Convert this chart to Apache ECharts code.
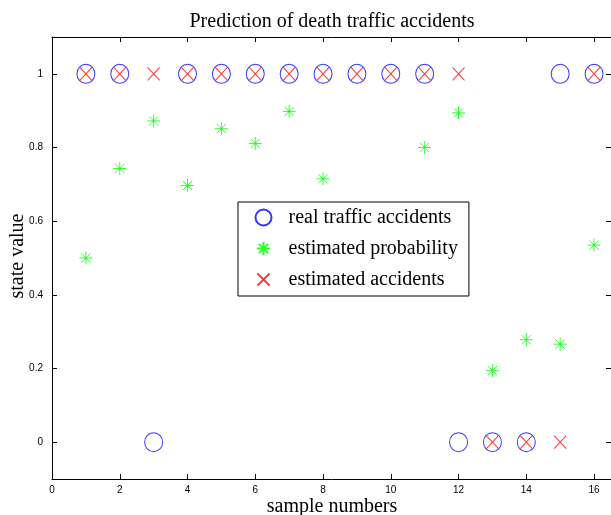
<!DOCTYPE html>
<html>
<head>
<meta charset="utf-8">
<script src="https://cdn.jsdelivr.net/npm/echarts@6/dist/echarts.min.js"></script>
<style>
html,body{margin:0;padding:0;background:#fff;}
#c{width:611px;height:515px;}
</style>
</head>
<body>
<div id="c"></div>
<script>
// ---- data ----
const samples = [1,2,3,4,5,6,7,8,9,10,11,12,13,14,15,16];
const realAccidents = [1,1,0,1,1,1,1,1,1,1,1,0,0,0,1,1];
const estimatedProbability = [0.50,0.743,0.872,0.697,0.851,0.811,0.898,0.715,null,null,0.800,0.894,0.194,0.278,0.266,0.535];
const estimatedAccidents = [1,1,1,1,1,1,1,1,1,1,1,1,0,0,0,1];
const xTicks = [0,2,4,6,8,10,12,14,16];
const yTicks = [0,0.2,0.4,0.6,0.8,1];
const titleText = 'Prediction of death traffic accidents';
const xLabel = 'sample numbers';
const yLabel = 'state value';
const names = ['real traffic accidents','estimated probability','estimated accidents'];

const pairs = arr => samples.map((s,i)=>[s,arr[i]]).filter(p=>p[1]!==null);

const starPath = 'path://M5,0L5,10M0,5L10,5M1.5,1.5L8.5,8.5M8.5,1.5L1.5,8.5';
const xPath = 'path://M0,0L10,10M10,0L0,10';
// padded versions for legend icons (M points enlarge the bounding box)
const starPathLegend = 'path://M-1,-1M11,11M5,0L5,10M0,5L10,5M1.5,1.5L8.5,8.5M8.5,1.5L1.5,8.5';
const xPathLegend = 'path://M-1.5,-1.5M11.5,11.5M0,0L10,10M10,0L0,10';

const serif = 'Liberation Serif, Times New Roman, serif';
const sans = 'Liberation Sans, Arial, sans-serif';

const chart = echarts.init(document.getElementById('c'), null, {renderer:'canvas'});

const axisCommon = {
  type:'value',
  axisLine:{show:true,onZero:false,lineStyle:{color:'#000',width:1}},
  splitLine:{show:false},
  axisTick:{show:true,inside:true,length:5,lineStyle:{color:'#000',width:1}},
};

chart.setOption({
  animation:false,
  backgroundColor:'#fff',
  grid:{left:52,right:-1,top:37,bottom:36,containLabel:false},
  xAxis:[
    Object.assign({},axisCommon,{position:'bottom',min:0,max:16.5,
      axisTick:Object.assign({},axisCommon.axisTick,{customValues:xTicks}),
      axisLabel:{customValues:xTicks,color:'#000',fontSize:10,fontFamily:sans,margin:6}}),
    Object.assign({},axisCommon,{position:'top',min:0,max:16.5,
      axisTick:Object.assign({},axisCommon.axisTick,{customValues:xTicks}),
      axisLabel:{show:false}})
  ],
  yAxis:[
    Object.assign({},axisCommon,{position:'left',min:-0.1,max:1.1,
      axisTick:Object.assign({},axisCommon.axisTick,{customValues:yTicks}),
      axisLabel:{customValues:yTicks,color:'#000',fontSize:10,fontFamily:sans,margin:9,
        formatter:v=>String(Math.round(v*10)/10)}}),
    Object.assign({},axisCommon,{position:'right',min:-0.1,max:1.1,
      axisTick:Object.assign({},axisCommon.axisTick,{customValues:yTicks}),
      axisLabel:{show:false}})
  ],
  legend:{
    orient:'vertical',left:238,top:202,
    backgroundColor:'#fff',borderColor:'#000',borderWidth:1,borderRadius:0,
    padding:[5,11,6,15],
    itemWidth:40,itemHeight:16,itemGap:10,
    selectedMode:false,
    textStyle:{fontFamily:serif,fontSize:20,color:'#000'},
    data:[
      {name:names[0],icon:'circle'},
      {name:names[1],icon:starPathLegend},
      {name:names[2],icon:xPathLegend}
    ]
  },
  graphic:[
    {type:'text',x:332,y:22,style:{text:titleText,fontFamily:serif,fontSize:20,fill:'#000',align:'center',verticalAlign:'middle'}},
    {type:'text',x:332,y:507,style:{text:xLabel,fontFamily:serif,fontSize:20,fill:'#000',align:'center',verticalAlign:'middle'}},
    {type:'text',x:18,y:256,rotation:Math.PI/2,style:{text:yLabel,fontFamily:serif,fontSize:20,fill:'#000',align:'center',verticalAlign:'middle'}}
  ],
  series:[
    {name:names[0],type:'scatter',data:pairs(realAccidents),symbol:'circle',symbolSize:[18,19],
      itemStyle:{color:'none',borderColor:'#0000ff',borderWidth:1},z:2},
    {name:names[1],type:'scatter',data:pairs(estimatedProbability),symbol:starPath,symbolSize:13,
      itemStyle:{color:'none',borderColor:'#00ff00',borderWidth:1},z:2},
    {name:names[2],type:'scatter',data:pairs(estimatedAccidents),symbol:xPath,symbolSize:[12,13],
      itemStyle:{color:'none',borderColor:'#ff0000',borderWidth:1},z:3}
  ]
});
</script>
</body>
</html>
